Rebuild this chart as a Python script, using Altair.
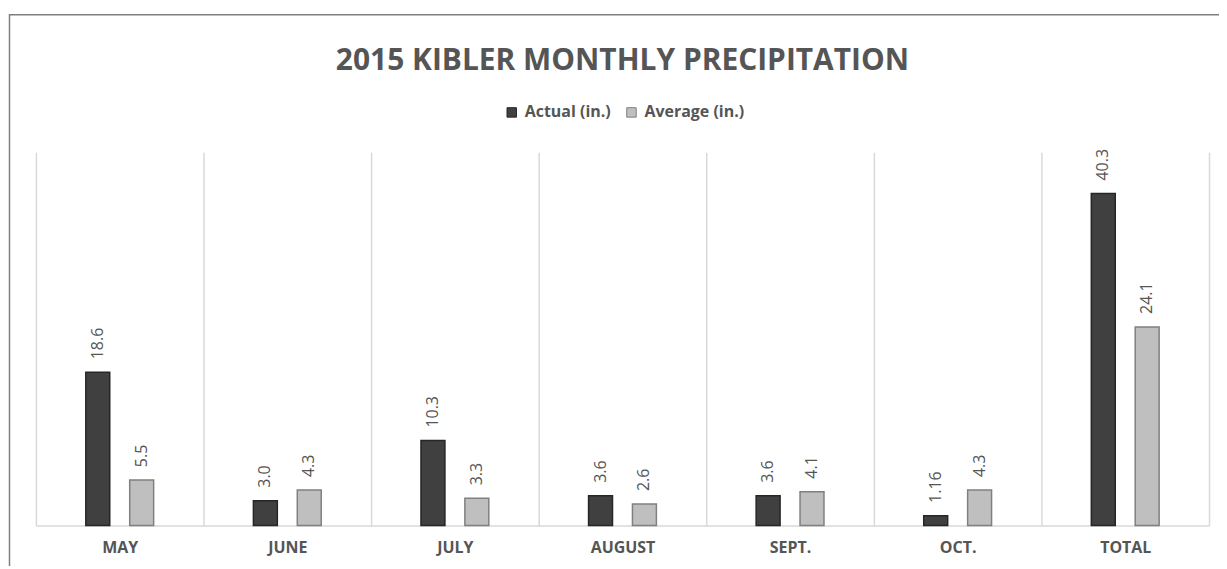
import altair as alt
import pandas as pd

months = ["MAY", "JUNE", "JULY", "AUGUST", "SEPT.", "OCT.", "TOTAL"]
actual = [18.6, 3.0, 10.3, 3.6, 3.6, 1.16, 40.3]
average = [5.5, 4.3, 3.3, 2.6, 4.1, 4.3, 24.1]
actual_labels = ["18.6", "3.0", "10.3", "3.6", "3.6", "1.16", "40.3"]
average_labels = ["5.5", "4.3", "3.3", "2.6", "4.1", "4.3", "24.1"]
series = ["Actual (in.)", "Average (in.)"]

rows = []
for m, v, l in zip(months, actual, actual_labels):
    rows.append({"month": m, "series": series[0], "value": v, "label": l})
for m, v, l in zip(months, average, average_labels):
    rows.append({"month": m, "series": series[1], "value": v, "label": l})
df = pd.DataFrame(rows)

FONT = "Open Sans"
TXT = "#555555"

x = alt.X("month:N", sort=months, title=None,
          scale=alt.Scale(paddingInner=0, paddingOuter=0),
          axis=alt.Axis(labelAngle=0, labelFont=FONT, labelFontSize=16,
                        labelFontWeight="bold", labelColor=TXT, labelPadding=14,
                        ticks=False, domainColor="#d9d9d9", domainWidth=1.5,
                        grid=True, gridColor="#d9d9d9", gridWidth=1.5,
                        tickBand="extent"))
xoff = alt.XOffset("series:N", sort=series,
                   scale=alt.Scale(paddingInner=0, paddingOuter=0.909))
y = alt.Y("value:Q", scale=alt.Scale(domain=[0, 45.3], nice=False, zero=True), axis=None)

legend = alt.Legend(orient="none", legendX=469, legendY=-48, direction="horizontal",
                    title=None, symbolType="square", symbolSize=90,
                    labelFont=FONT, labelFontSize=16, labelFontWeight="bold",
                    labelColor=TXT, labelOffset=5, columnPadding=12,
                    symbolStrokeWidth=1)

bars = alt.Chart(df).mark_bar(strokeWidth=1.5, width=24).encode(
    x=x, xOffset=xoff, y=y,
    color=alt.Color("series:N", sort=series,
                    scale=alt.Scale(domain=series, range=["#404040", "#bfbfbf"]),
                    legend=legend),
    stroke=alt.Stroke("series:N", sort=series,
                      scale=alt.Scale(domain=series, range=["#262626", "#808080"]),
                      legend=legend),
)

labels = alt.Chart(df).mark_text(angle=270, align="left", baseline="middle", dx=13,
                                 font=FONT, fontSize=16, color=TXT).encode(
    x=x, xOffset=xoff, y=y, text="label:N"
)

frame = alt.Chart(alt.Data(values=[{}])).mark_rect(filled=False, stroke="#7f7f7f",
                                                   strokeWidth=1.5).encode(
    x=alt.value(-26.5), x2=alt.value(1400), y=alt.value(-138), y2=alt.value(800)
)

chart = alt.layer(frame, bars, labels).properties(
    width=1176, height=374,
    title=alt.TitleParams("2015 KIBLER MONTHLY PRECIPITATION", font=FONT, fontSize=30,
                          fontWeight="bold", color=TXT, anchor="middle", offset=-62),
    autosize=alt.AutoSizeParams(type="none"),
    padding={"left": 28, "top": 144, "right": 10, "bottom": 40},
    background="white",
).configure_view(stroke=None)

chart.save("out.html", embed_options={"renderer": "svg", "actions": False})
